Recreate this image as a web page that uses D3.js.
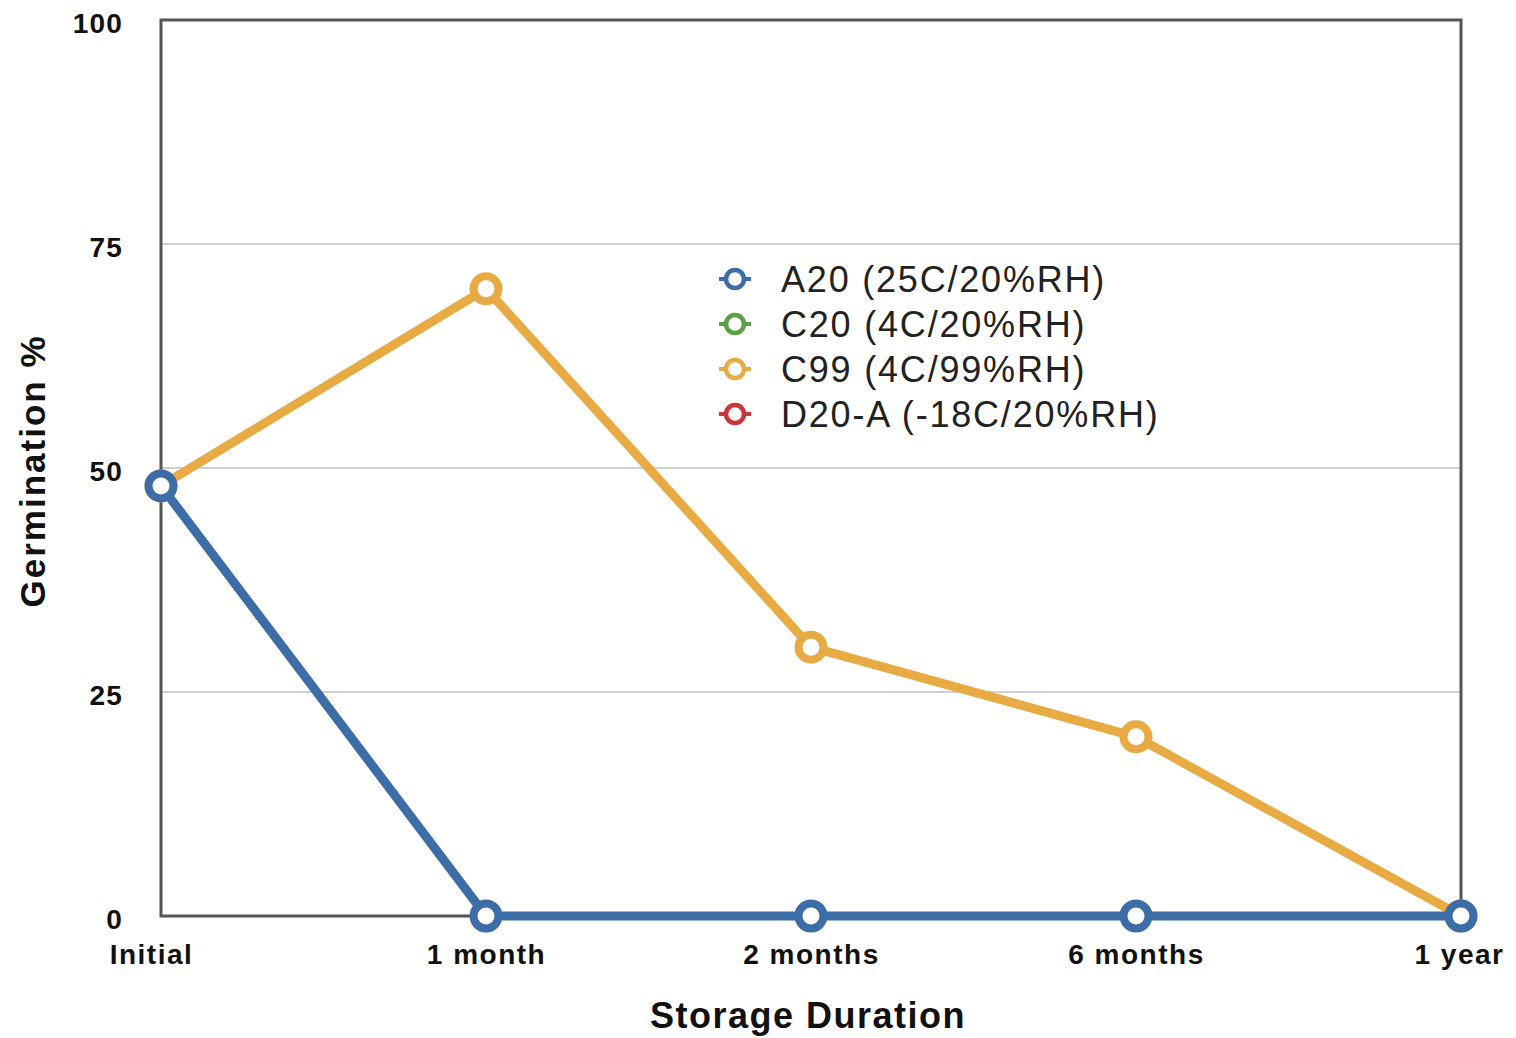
<!DOCTYPE html>
<html><head><meta charset="utf-8">
<script src="https://cdn.jsdelivr.net/npm/d3@7"></script>
<style>body{margin:0;background:#fff;} svg{display:block;}</style>
</head><body>
<svg id="c" width="1516" height="1038"></svg>
<script>
const categories = ["Initial", "1 month", "2 months", "6 months", "1 year"];
const yTicks = [0, 25, 50, 75, 100];
const seriesNames = ["A20 (25C/20%RH)", "C20 (4C/20%RH)", "C99 (4C/99%RH)", "D20-A (-18C/20%RH)"];
const seriesColors = ["#3d6da6", "#5b9f47", "#e8ab44", "#c9363a"];
const a20 = [48, 0, 0, 0, 0];
const c99 = [48, 70, 30, 20, 0];
const plotted = [
  {name: seriesNames[2], color: seriesColors[2], values: c99},
  {name: seriesNames[0], color: seriesColors[0], values: a20}
];

const svg = d3.select("#c");
const L = 161, R = 1461, T = 20, B = 916;
const x = d3.scalePoint().domain(categories).range([L, R]);
const y = d3.scaleLinear().domain([0, 100]).range([B, T]);
const font = "'Liberation Sans', Arial, Helvetica, sans-serif";

// gridlines
svg.append("g").selectAll("line").data(yTicks.filter(d => d > 0 && d < 100)).join("line")
  .attr("x1", L).attr("x2", R).attr("y1", d => y(d)).attr("y2", d => y(d))
  .attr("stroke", "#cfcfcf").attr("stroke-width", 2);

// frame
svg.append("rect").attr("x", L).attr("y", T).attr("width", R - L).attr("height", B - T)
  .attr("fill", "none").attr("stroke", "#555").attr("stroke-width", 3);

// y axis
const yAxis = d3.axisLeft(y).tickValues(yTicks).tickSize(0).tickPadding(38);
const gy = svg.append("g").attr("transform", `translate(${L},0)`).call(yAxis);
gy.select(".domain").remove();
gy.selectAll("text").attr("font-family", font).attr("font-weight", "bold")
  .attr("font-size", 28).attr("letter-spacing", 1.2).attr("fill", "#111").attr("dy", "0.45em");

// x axis
const xAxis = d3.axisBottom(x).tickSize(0).tickPadding(28);
const gx = svg.append("g").attr("transform", `translate(0,${B})`).call(xAxis);
gx.select(".domain").remove();
gx.selectAll("text").attr("font-family", font).attr("font-weight", "bold")
  .attr("font-size", 28).attr("letter-spacing", 1.5).attr("fill", "#111");
gx.selectAll(".tick text").attr("dx", (d, i) => i === 0 ? -10 : (i === categories.length - 1 ? -2 : 0));

// axis titles
svg.append("text").attr("x", (L + R) / 2 - 3).attr("y", 1028).attr("text-anchor", "middle")
  .attr("font-family", font).attr("font-weight", "bold").attr("font-size", 36)
  .attr("letter-spacing", 1.5).attr("fill", "#111")
  .text("Storage Duration");
svg.append("text").attr("transform", `translate(45,471) rotate(-90)`).attr("text-anchor", "middle")
  .attr("font-family", font).attr("font-weight", "bold").attr("font-size", 35)
  .attr("letter-spacing", 2).attr("fill", "#111")
  .text("Germination %");

// series
const line = d3.line().x((d, i) => x(categories[i])).y(d => y(d));
plotted.forEach(s => {
  const g = svg.append("g");
  g.append("path").datum(s.values).attr("d", line).attr("fill", "none")
    .attr("stroke", s.color).attr("stroke-width", 9).attr("stroke-linejoin", "round");
  g.selectAll("circle").data(s.values).join("circle")
    .attr("cx", (d, i) => x(categories[i])).attr("cy", d => y(d)).attr("r", 12.5)
    .attr("fill", "#fff").attr("stroke", s.color).attr("stroke-width", 8);
});

// legend
const lg = svg.append("g");
const rowY = d3.scalePoint().domain(seriesNames).range([279, 414]);
seriesNames.forEach((n, i) => {
  const yy = rowY(n);
  lg.append("line").attr("x1", 719).attr("x2", 751).attr("y1", yy).attr("y2", yy)
    .attr("stroke", seriesColors[i]).attr("stroke-width", 4);
  lg.append("circle").attr("cx", 735).attr("cy", yy).attr("r", 9)
    .attr("fill", "#fff").attr("stroke", seriesColors[i]).attr("stroke-width", 4.5);
  lg.append("text").attr("x", 781).attr("y", yy + 13).attr("font-family", font)
    .attr("font-size", 36).attr("letter-spacing", 1.8).attr("fill", "#222").text(n);
});
</script>
</body></html>
